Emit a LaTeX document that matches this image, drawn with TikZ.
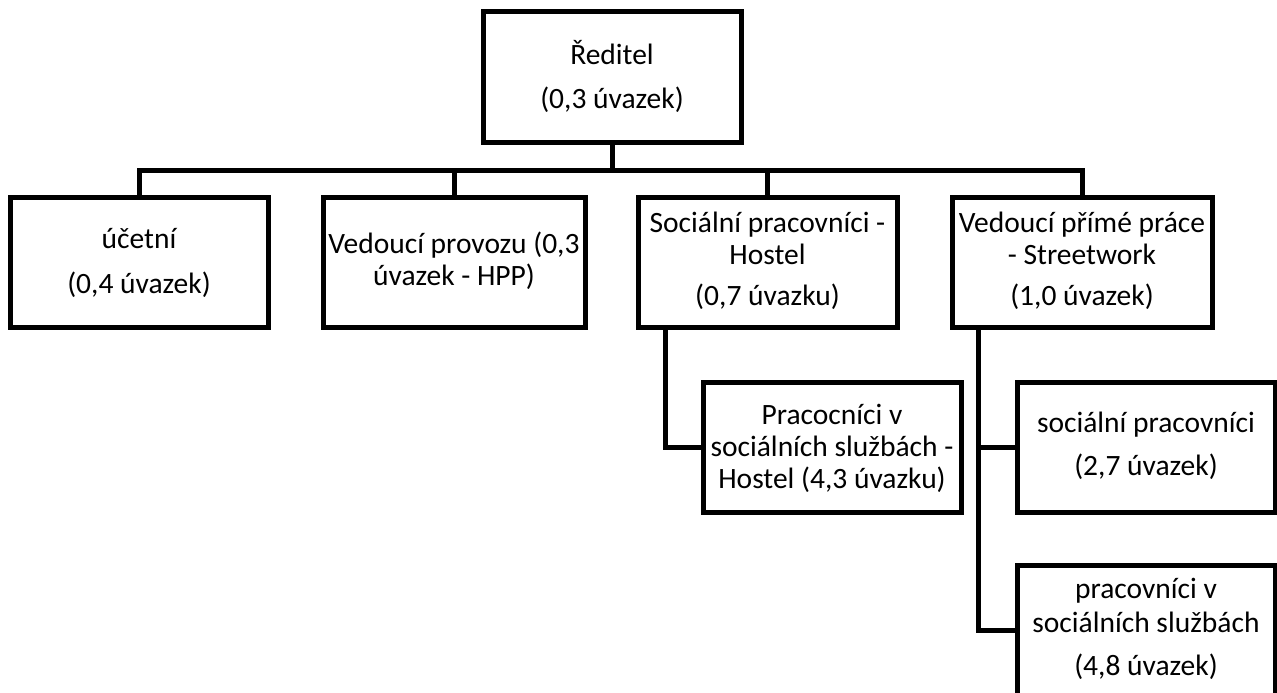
\documentclass[tikz,border=0pt]{standalone}
\usepackage{fontspec}
\setmainfont{Carlito}
\begin{document}
\begin{tikzpicture}[x=1pt,y=-1pt,
  box/.style={draw=black,line width=5pt,rectangle,outer sep=0pt,inner sep=0pt,minimum height=130pt,minimum width=258pt},
  txt/.style={anchor=base,inner sep=0pt,font=\fontsize{29.5}{35}\selectfont},
  conn/.style={draw=black,line width=5pt,line join=miter}]
\useasboundingbox (0,0) rectangle (1277,693);
\clip (0,0) rectangle (1277,693);
% boxes
\node[box] (dir) at (612,77) {};
\node[box] (ucet) at (139,262.5) {};
\node[box,minimum width=262pt] (vp) at (454,262.5) {};
\node[box,minimum width=259pt] (sph) at (767.5,262.5) {};
\node[box,minimum width=260pt] (vpp) at (1082,262.5) {};
\node[box] (hsub) at (832,447) {};
\node[box] (sp) at (1146,447) {};
\node[box] (pss) at (1146,630) {};
% connectors
\coordinate (busL) at (139,170);
\draw[conn] (dir.south) -- (dir.south |- busL);
\draw[conn] (ucet.north) -- (ucet.north |- busL) -| (vpp.north);
\draw[conn] (vp.north) -- (vp.north |- busL);
\draw[conn] (sph.north) -- (sph.north |- busL);
\draw[conn] ([xshift=27pt]sph.south west) |- (hsub.west);
\draw[conn] ([xshift=26pt]vpp.south west) |- (pss.west);
\coordinate (vline) at ([xshift=26pt]vpp.south west);
\draw[conn] (sp.west) -- (sp.west -| vline);
% texts
\node[txt] (t1a) at (612,65) {Ředitel};
\node[txt] (t1b) at (612,108) {(0,3 úvazek)};
\node[txt] (t2a) at (139,248) {účetní};
\node[txt] (t2b) at (139,293) {(0,4 úvazek)};
\node[txt] (t3a) at (454,253) {Vedoucí provozu (0,3};
\node[txt] (t3b) at (454,285) {úvazek - HPP)};
\node[txt] (t4a) at (767.5,232) {Sociální pracovníci -};
\node[txt] (t4b) at (767.5,264) {Hostel};
\node[txt] (t4c) at (767.5,305) {(0,7 úvazku)};
\node[txt] (t5a) at (1082,232) {Vedoucí přímé práce};
\node[txt] (t5b) at (1082,264) {- Streetwork};
\node[txt] (t5c) at (1082,305) {(1,0 úvazek)};
\node[txt] (t6a) at (832,424) {Pracocníci v};
\node[txt] (t6b) at (832,456) {sociálních službách -};
\node[txt] (t6c) at (832,488) {Hostel (4,3 úvazku)};
\node[txt] (t7a) at (1146,432) {sociální pracovníci};
\node[txt] (t7b) at (1146,475) {(2,7 úvazek)};
\node[txt] (t8a) at (1146,598) {pracovníci v};
\node[txt] (t8b) at (1146,632) {sociálních službách};
\node[txt] (t8c) at (1146,675) {(4,8 úvazek)};
\end{tikzpicture}
\end{document}
